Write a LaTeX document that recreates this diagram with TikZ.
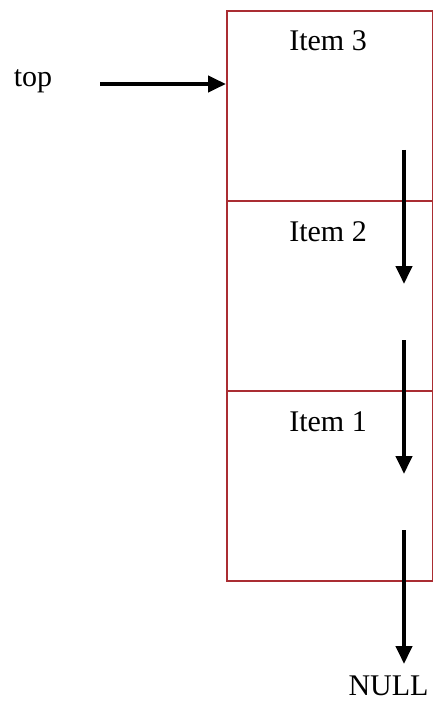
\documentclass[tikz,border=0pt]{standalone}
\usepackage{fontspec}
\setmainfont{Liberation Serif}
\usetikzlibrary{arrows.meta}
\definecolor{cellred}{RGB}{170,45,50}
\begin{document}
\begin{tikzpicture}[x=1pt,y=-1pt,
  cell/.style={draw=cellred,line width=1.6pt,minimum width=206pt,minimum height=190pt,inner sep=0pt,anchor=north west},
  lbl/.style={font=\fontsize{30}{36}\selectfont,inner sep=0pt,anchor=base},
  ptr/.style={line width=4.2pt,-{Triangle[length=18pt,width=16pt]}}]
  \useasboundingbox (0,0) rectangle (433,703);
  % stack cells, top to bottom
  \node[cell] (c3) at (226,10) {};
  \node[cell] (c2) at (226,200) {};
  \node[cell] (c1) at (226,390) {};
  \node[lbl] (t3) at (328,51) {Item 3};
  \node[lbl] (t2) at (328,241) {Item 2};
  \node[lbl] (t1) at (328,431) {Item 1};
  % labels outside the stack
  \node[lbl] (top) at (33,87) {top};
  \node[lbl] (null) at (388.5,695) {NULL};
  % pointer start points
  \coordinate (tp) at (100,84);
  \coordinate (n3) at (404,150);
  \coordinate (n2) at (404,340);
  \coordinate (n1) at (404,530);
  \coordinate (e3) at (404,284);
  \coordinate (e2) at (404,474);
  \coordinate (e1) at (404,664);
  \draw[ptr] (tp) -- (c3.west |- tp);
  \draw[ptr] (n3) -- (e3);
  \draw[ptr] (n2) -- (e2);
  \draw[ptr] (n1) -- (e1);
\end{tikzpicture}
\end{document}
